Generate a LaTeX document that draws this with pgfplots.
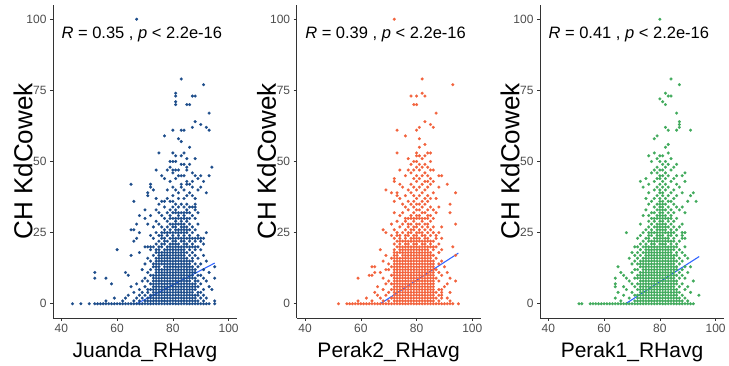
\documentclass[border=0pt]{standalone}
\usepackage{fontspec}
\setmainfont{Liberation Sans}
\usepackage{pgfplots}
\pgfplotsset{compat=1.18}

\definecolor{cjuanda}{RGB}{28,76,138}
\definecolor{cperaktwo}{RGB}{242,98,60}
\definecolor{cperakone}{RGB}{65,170,92}
\definecolor{fitline}{RGB}{51,102,255}
\definecolor{tickgray}{RGB}{77,77,77}

\pgfplotsset{
  panel/.style={
    scale only axis, width=184pt, height=313pt,
    xmin=37, xmax=103, ymin=-5, ymax=105,
    xtick={40,60,80,100}, ytick={0,25,50,75,100},
    axis x line*=bottom, axis y line*=left,
    axis line style={-, black!80, line width=0.6pt},
    every tick/.style={black!80, line width=0.6pt},
    tick align=outside, major tick length=3pt,
    ticklabel style={font=\fontsize{12}{12}\selectfont, text=tickgray},
    /pgf/number format/assume math mode=true,
    ylabel={CH KdCowek},
    ylabel style={font=\fontsize{26}{26}\selectfont, at={(axis description cs:-0.092,0.5)}, anchor=south},
    xlabel style={font=\fontsize{21}{21}\selectfont, at={(axis description cs:0.5,-0.1278)}, anchor=base},
    clip=false,
  },
  pts/.style={only marks, mark=*, mark size=1.45pt, mark options={line width=0.2pt}},
  fitln/.style={fitline, line width=1.1pt, no marks},
}
\tikzset{stat/.style={anchor=base west, inner sep=0pt, font=\fontsize{16.5}{16.5}\selectfont}}

\begin{document}
\begin{tikzpicture}
\path[use as bounding box] (0,0) rectangle (729pt,366pt);

% ---------------- Juanda ----------------
\begin{axis}[panel, at={(53pt,48pt)}, anchor=south west, xlabel={Juanda\_RHavg}]
\addplot[pts, color=cjuanda] coordinates {
(44,0)(47,0)(50,0)(52,0)(53,0)(54,0)(55,0)(56,0)(57,0)(58,0)(59,0)(60,0)(61,0)(62,0)(63,0)(64,0)(65,0)(66,0)(67,0)(68,0)(69,0)(70,0)(71,0)(72,0)(73,0)(74,0)(75,0)(76,0)(77,0)(78,0)(79,0)(80,0)(81,0)(82,0)(83,0)(84,0)(85,0)(86,0)(87,0)(88,0)(89,0)(90,0)(91,0)(92,0)(93,0)(95,0)
(56,1)(62,1)(66,1)(68,1)(70,1)(71,1)(72,1)(73,1)(74,1)(75,1)(76,1)(77,1)(78,1)(79,1)(80,1)(81,1)(82,1)(83,1)(84,1)(85,1)(86,1)(87,1)(88,1)(89,1)(91,1)(95,1)
(59,2)(63,2)(67,2)(69,2)(71,2)(72,2)(73,2)(74,2)(75,2)(76,2)(77,2)(78,2)(79,2)(80,2)(81,2)(82,2)(83,2)(84,2)(85,2)(86,2)(87,2)(88,2)(90,2)(92,2)
(64,3)(68,3)(70,3)(72,3)(73,3)(74,3)(75,3)(76,3)(77,3)(78,3)(79,3)(80,3)(81,3)(82,3)(83,3)(84,3)(85,3)(86,3)(87,3)(88,3)(89,3)(91,3)
(66,4)(69,4)(71,4)(73,4)(74,4)(75,4)(76,4)(77,4)(78,4)(79,4)(80,4)(81,4)(82,4)(83,4)(84,4)(85,4)(86,4)(87,4)(89,4)(90,4)
(68,5)(71,5)(72,5)(73,5)(74,5)(75,5)(76,5)(77,5)(78,5)(79,5)(80,5)(81,5)(82,5)(83,5)(84,5)(85,5)(86,5)(87,5)(88,5)(91,5)(94,5)
(65,6)(70,6)(73,6)(74,6)(75,6)(76,6)(77,6)(78,6)(79,6)(80,6)(81,6)(82,6)(83,6)(84,6)(85,6)(86,6)(87,6)(88,6)(89,6)(93,6)
(58,7)(67,7)(72,7)(73,7)(74,7)(75,7)(76,7)(77,7)(78,7)(79,7)(80,7)(81,7)(82,7)(83,7)(84,7)(85,7)(86,7)(87,7)(88,7)(90,7)
(69,8)(71,8)(73,8)(74,8)(75,8)(76,8)(77,8)(78,8)(79,8)(80,8)(81,8)(82,8)(83,8)(84,8)(85,8)(86,8)(88,8)(89,8)(92,8)
(52,9)(56,9)(70,9)(73,9)(74,9)(75,9)(76,9)(77,9)(78,9)(79,9)(80,9)(81,9)(82,9)(83,9)(84,9)(85,9)(86,9)(87,9)(88,9)(91,9)(95,9)
(64,10)(72,10)(73,10)(74,10)(75,10)(76,10)(77,10)(78,10)(79,10)(80,10)(81,10)(82,10)(83,10)(84,10)(85,10)(86,10)(87,10)(89,10)(90,10)
(52,11)(63,11)(71,11)(74,11)(75,11)(76,11)(77,11)(78,11)(79,11)(80,11)(81,11)(82,11)(83,11)(84,11)(85,11)(86,11)(87,11)(88,11)(93,11)
(69,12)(72,12)(74,12)(75,12)(76,12)(77,12)(78,12)(79,12)(80,12)(81,12)(82,12)(83,12)(84,12)(85,12)(86,12)(87,12)(88,12)(91,12)
(73,13)(74,13)(75,13)(77,13)(78,13)(79,13)(80,13)(81,13)(82,13)(83,13)(84,13)(85,13)(86,13)(87,13)(89,13)(95,13)
(70,14)(73,14)(74,14)(75,14)(76,14)(77,14)(78,14)(79,14)(80,14)(81,14)(82,14)(83,14)(84,14)(85,14)(86,14)(88,14)(90,14)
(72,15)(74,15)(75,15)(76,15)(77,15)(78,15)(79,15)(80,15)(81,15)(82,15)(83,15)(84,15)(85,15)(86,15)(87,15)(92,15)
(71,16)(74,16)(75,16)(76,16)(77,16)(78,16)(79,16)(80,16)(81,16)(82,16)(83,16)(84,16)(85,16)(87,16)(89,16)
(65,17)(73,17)(75,17)(76,17)(77,17)(78,17)(79,17)(80,17)(81,17)(82,17)(83,17)(84,17)(86,17)(88,17)(91,17)
(68,18)(74,18)(75,18)(76,18)(77,18)(78,18)(79,18)(80,18)(81,18)(82,18)(83,18)(84,18)(85,18)(87,18)
(60,19)(72,19)(74,19)(75,19)(77,19)(78,19)(79,19)(80,19)(81,19)(82,19)(83,19)(84,19)(86,19)(88,19)(90,19)
(70,20)(71,20)(72,20)(73,20)(75,20)(76,20)(78,20)(79,20)(80,20)(81,20)(82,20)(83,20)(84,20)(85,20)(86,20)(87,20)(88,20)(89,20)
(74,21)(76,21)(77,21)(79,21)(80,21)(81,21)(82,21)(84,21)(85,21)(87,21)(91,21)
(66,22)(75,22)(77,22)(78,22)(80,22)(81,22)(83,22)(84,22)(86,22)(88,22)(90,22)
(67,23)(73,23)(76,23)(77,23)(79,23)(80,23)(81,23)(82,23)(83,23)(84,23)(85,23)(86,23)(87,23)(88,23)(89,23)(90,23)(91,23)
(72,24)(75,24)(76,24)(78,24)(80,24)(82,24)(84,24)(86,24)(89,24)
(68,25)(74,25)(76,25)(77,25)(78,25)(79,25)(80,25)(81,25)(82,25)(83,25)(84,25)(85,25)(87,25)(92,25)
(65,26)(66,26)(77,26)(79,26)(81,26)(82,26)(83,26)(84,26)(85,26)(86,26)(88,26)
(73,27)(76,27)(78,27)(80,27)(81,27)(83,27)(84,27)(85,27)(87,27)
(67,28)(71,28)(75,28)(79,28)(80,28)(81,28)(82,28)(83,28)(84,28)(86,28)(89,28)
(74,29)(78,29)(81,29)(83,29)(85,29)
(70,30)(77,30)(79,30)(80,30)(81,30)(82,30)(83,30)(84,30)(85,30)(86,30)(88,30)
(68,31)(72,31)(76,31)(79,31)(82,31)(84,31)(87,31)
(75,32)(78,32)(80,32)(81,32)(82,32)(83,32)(84,32)(85,32)(86,32)(89,32)
(70,33)(74,33)(79,33)(81,33)(85,33)(88,33)
(77,34)(80,34)(82,34)(84,34)(86,34)(87,34)(88,34)
(75,35)(81,35)(83,35)(85,35)(88,35)
(66,36)(76,36)(77,36)(79,36)(80,36)
(74,37)(78,37)(82,37)(84,37)(88,37)
(71,38)(80,38)(85,38)(87,38)
(71,39)(82,39)(86,39)(92,39)
(73,40)(78,40)(81,40)(84,40)(89,40)
(72,41)(80,41)(83,41)(87,41)(90,41)
(65,42)(72,42)(83,42)(85,42)(86,42)
(79,43)(85,43)(87,43)(91,43)
(77,44)(81,44)(89,44)
(76,45)(82,45)(83,45)(84,45)(88,45)(90,45)(93,45)
(80,46)(87,46)
(74,47)(78,47)(80,47)(81,47)(82,47)(85,47)
(79,48)(85,48)(94,48)
(83,49)(84,49)(86,49)
(79,50)(80,50)(81,50)
(85,51)(88,51)
(81,52)(83,52)
(75,53)(80,53)(84,53)
(86,55)(83,57)(82,58)(77,59)
(80,61)(83,61)(84,61)(93,61)
(87,62)(92,62)(90,63)(88,64)(93,67)
(81,70)(85,70)(86,70)(81,71)
(81,73)(87,73)(88,73)(81,74)
(91,77)(83,79)(67,100)
};
\addplot[fitln] coordinates {(67,0) (95,14.3)};
\node[stat] at (axis cs:40,93.2) {\textit{R} = 0.35 , \textit{p} < 2.2e-16};
\end{axis}

% ---------------- Perak2 ----------------
\begin{axis}[panel, at={(296.7pt,48pt)}, anchor=south west, xlabel={Perak2\_RHavg}]
\addplot[pts, color=cperaktwo] coordinates {
(52,0)(55,0)(56,0)(57,0)(58,0)(59,0)(60,0)(61,0)(62,0)(63,0)(64,0)(65,0)(66,0)(67,0)(68,0)(69,0)(70,0)(71,0)(72,0)(73,0)(74,0)(75,0)(76,0)(77,0)(78,0)(79,0)(80,0)(81,0)(82,0)(83,0)(84,0)(85,0)(86,0)(87,0)(88,0)(89,0)(90,0)(91,0)(92,0)(93,0)(95,0)
(59,1)(64,1)(68,1)(70,1)(72,1)(73,1)(74,1)(75,1)(76,1)(77,1)(78,1)(79,1)(80,1)(81,1)(82,1)(83,1)(84,1)(85,1)(86,1)(88,1)(92,1)
(62,2)(67,2)(71,2)(72,2)(73,2)(74,2)(75,2)(76,2)(77,2)(78,2)(79,2)(80,2)(81,2)(82,2)(83,2)(84,2)(85,2)(86,2)(87,2)(89,2)(91,2)
(66,3)(69,3)(72,3)(73,3)(74,3)(75,3)(76,3)(77,3)(78,3)(79,3)(80,3)(81,3)(82,3)(83,3)(84,3)(85,3)(86,3)(88,3)(89,3)
(65,4)(70,4)(72,4)(73,4)(74,4)(75,4)(76,4)(77,4)(78,4)(79,4)(80,4)(81,4)(82,4)(83,4)(84,4)(85,4)(86,4)(87,4)(89,4)(92,4)
(68,5)(71,5)(72,5)(73,5)(74,5)(75,5)(76,5)(77,5)(78,5)(79,5)(80,5)(81,5)(82,5)(83,5)(84,5)(85,5)(86,5)(88,5)(89,5)
(66,6)(72,6)(73,6)(74,6)(75,6)(76,6)(77,6)(78,6)(79,6)(80,6)(81,6)(82,6)(83,6)(84,6)(85,6)(86,6)(90,6)
(69,7)(71,7)(72,7)(73,7)(74,7)(75,7)(76,7)(77,7)(78,7)(79,7)(80,7)(81,7)(82,7)(83,7)(84,7)(85,7)(86,7)(91,7)
(70,8)(72,8)(73,8)(74,8)(75,8)(76,8)(77,8)(78,8)(79,8)(80,8)(81,8)(82,8)(83,8)(84,8)(85,8)(86,8)(88,8)(94,8)
(59,9)(68,9)(72,9)(73,9)(74,9)(75,9)(76,9)(77,9)(78,9)(79,9)(80,9)(81,9)(82,9)(83,9)(84,9)(85,9)(86,9)(87,9)(92,9)
(63,10)(64,10)(71,10)(72,10)(73,10)(74,10)(75,10)(76,10)(77,10)(78,10)(79,10)(80,10)(81,10)(82,10)(83,10)(84,10)(85,10)(86,10)(89,10)
(65,11)(67,11)(72,11)(73,11)(74,11)(75,11)(76,11)(77,11)(78,11)(79,11)(80,11)(81,11)(82,11)(83,11)(84,11)(85,11)(86,11)(88,11)(91,11)
(69,12)(70,12)(72,12)(73,12)(74,12)(75,12)(76,12)(77,12)(78,12)(79,12)(80,12)(81,12)(82,12)(83,12)(84,12)(85,12)(86,12)(87,12)
(64,13)(65,13)(71,13)(72,13)(73,13)(74,13)(75,13)(76,13)(77,13)(78,13)(79,13)(80,13)(81,13)(82,13)(83,13)(84,13)(85,13)(86,13)(90,13)
(70,14)(72,14)(73,14)(74,14)(75,14)(76,14)(77,14)(78,14)(79,14)(80,14)(81,14)(82,14)(83,14)(84,14)(85,14)(86,14)(88,14)
(68,15)(72,15)(73,15)(74,15)(75,15)(76,15)(77,15)(78,15)(79,15)(80,15)(81,15)(82,15)(83,15)(84,15)(85,15)(86,15)(89,15)
(71,16)(72,16)(73,16)(74,16)(75,16)(76,16)(77,16)(78,16)(79,16)(80,16)(81,16)(82,16)(83,16)(84,16)(85,16)(87,16)
(69,17)(72,17)(73,17)(75,17)(76,17)(77,17)(78,17)(79,17)(80,17)(81,17)(82,17)(83,17)(84,17)(85,17)(86,17)(94,17)
(72,18)(73,18)(74,18)(75,18)(76,18)(77,18)(78,18)(79,18)(80,18)(81,18)(82,18)(83,18)(84,18)(85,18)(88,18)
(67,19)(72,19)(74,19)(75,19)(76,19)(77,19)(78,19)(79,19)(80,19)(81,19)(82,19)(83,19)(84,19)(86,19)(89,19)
(73,20)(74,20)(75,20)(76,20)(77,20)(78,20)(79,20)(80,20)(81,20)(82,20)(83,20)(84,20)(85,20)(86,20)(87,20)(93,20)
(72,21)(74,21)(76,21)(77,21)(79,21)(80,21)(82,21)(83,21)(85,21)(88,21)
(73,22)(74,22)(75,22)(76,22)(77,22)(78,22)(79,22)(80,22)(81,22)(82,22)(83,22)(84,22)(85,22)(86,22)
(72,23)(74,23)(76,23)(78,23)(79,23)(80,23)(81,23)(83,23)(84,23)(87,23)(89,23)
(71,24)(73,24)(74,24)(76,24)(77,24)(79,24)(80,24)(82,24)(83,24)(85,24)(87,24)
(69,25)(73,25)(75,25)(77,25)(78,25)(80,25)(81,25)(82,25)(84,25)(86,25)(88,25)
(68,26)(72,26)(76,26)(78,26)(79,26)(81,26)(83,26)(85,26)
(74,27)(77,27)(79,27)(80,27)(82,27)(84,27)(86,27)(89,27)
(71,28)(75,28)(77,28)(78,28)(80,28)(81,28)(83,28)(84,28)(94,28)
(73,29)(76,29)(79,29)(82,29)(85,29)
(76,30)(77,30)(78,30)(79,30)(80,30)(81,30)(82,30)(83,30)(84,30)(86,30)
(74,31)(78,31)(80,31)(81,31)(84,31)(85,31)
(72,32)(75,32)(79,32)(82,32)(83,32)(87,32)(92,32)
(77,33)(80,33)(81,33)(84,33)(86,33)
(76,34)(79,34)(82,34)(85,34)(88,34)
(75,35)(78,35)(80,35)(81,35)(83,35)(92,35)
(72,36)(77,36)(79,36)(82,36)(84,36)
(74,37)(80,37)(83,37)(85,37)(87,37)
(73,38)(76,38)(79,38)(81,38)(84,38)
(71,39)(73,39)(78,39)(82,39)(86,39)(94,39)
(69,40)(77,40)(80,40)(83,40)
(75,41)(79,41)(81,41)(84,41)(88,41)
(74,42)(78,42)(82,42)(85,42)(91,42)
(72,43)(80,43)(83,43)(84,43)(86,43)
(72,44)(79,44)(81,44)(85,44)
(76,45)(80,45)(82,45)(84,45)(88,45)(89,45)
(78,46)(83,46)
(74,47)(77,47)(79,47)(81,47)(85,47)(86,47)
(80,48)(82,48)(84,48)
(78,49)(81,49)(83,49)
(79,50)(80,50)(85,50)
(77,51)(82,51)
(80,52)(81,52)(83,52)
(73,53)(80,53)(84,53)(85,53)
(81,55)(83,56)(81,58)(76,59)
(73,61)(80,61)(81,62)(86,62)(85,63)(83,64)(87,67)
(79,70)(80,70)(78,73)(80,73)(83,73)(82,74)
(93,77)(82,79)(72,100)
};
\addplot[fitln] coordinates {(67,0) (95,17.8)};
\node[stat] at (axis cs:40,93.2) {\textit{R} = 0.39 , \textit{p} < 2.2e-16};
\end{axis}

% ---------------- Perak1 ----------------
\begin{axis}[panel, at={(540pt,48pt)}, anchor=south west, xlabel={Perak1\_RHavg}]
\addplot[pts, color=cperakone] coordinates {
(51,0)(52,0)(55,0)(56,0)(57,0)(58,0)(59,0)(60,0)(61,0)(62,0)(63,0)(64,0)(65,0)(66,0)(67,0)(68,0)(69,0)(70,0)(71,0)(72,0)(73,0)(74,0)(75,0)(76,0)(77,0)(78,0)(79,0)(80,0)(81,0)(82,0)(83,0)(84,0)(85,0)(86,0)(87,0)(88,0)(89,0)(90,0)(91,0)(92,0)
(66,1)(71,1)(72,1)(73,1)(74,1)(75,1)(76,1)(77,1)(78,1)(79,1)(80,1)(81,1)(82,1)(83,1)(84,1)(85,1)(86,1)(87,1)(88,1)(90,1)
(64,2)(69,2)(72,2)(73,2)(74,2)(75,2)(76,2)(77,2)(78,2)(79,2)(80,2)(81,2)(82,2)(83,2)(84,2)(85,2)(86,2)(87,2)(89,2)
(67,3)(71,3)(72,3)(73,3)(74,3)(75,3)(76,3)(77,3)(78,3)(79,3)(80,3)(81,3)(82,3)(83,3)(84,3)(85,3)(86,3)(88,3)(94,3)
(65,4)(70,4)(73,4)(74,4)(75,4)(76,4)(77,4)(78,4)(79,4)(80,4)(81,4)(82,4)(83,4)(84,4)(85,4)(86,4)(87,4)(91,4)
(68,5)(72,5)(73,5)(74,5)(75,5)(76,5)(77,5)(78,5)(79,5)(80,5)(81,5)(82,5)(83,5)(84,5)(85,5)(86,5)(89,5)
(64,6)(67,6)(71,6)(73,6)(74,6)(75,6)(76,6)(77,6)(78,6)(79,6)(80,6)(81,6)(82,6)(83,6)(84,6)(85,6)(87,6)(90,6)
(64,7)(70,7)(72,7)(73,7)(74,7)(75,7)(76,7)(77,7)(78,7)(79,7)(80,7)(81,7)(82,7)(83,7)(84,7)(85,7)(86,7)(88,7)
(69,8)(73,8)(74,8)(75,8)(76,8)(77,8)(78,8)(79,8)(80,8)(81,8)(82,8)(83,8)(84,8)(85,8)(86,8)(92,8)
(64,9)(68,9)(71,9)(72,9)(73,9)(74,9)(75,9)(76,9)(77,9)(78,9)(79,9)(80,9)(81,9)(82,9)(83,9)(84,9)(85,9)(87,9)(89,9)
(67,10)(72,10)(73,10)(74,10)(75,10)(76,10)(77,10)(78,10)(79,10)(80,10)(81,10)(82,10)(83,10)(84,10)(85,10)(86,10)(88,10)
(66,11)(70,11)(73,11)(74,11)(75,11)(76,11)(77,11)(78,11)(79,11)(80,11)(81,11)(82,11)(83,11)(84,11)(85,11)(87,11)(90,11)
(71,12)(72,12)(74,12)(75,12)(76,12)(77,12)(78,12)(79,12)(80,12)(81,12)(82,12)(83,12)(84,12)(85,12)(86,12)(88,12)
(65,13)(73,13)(74,13)(75,13)(76,13)(77,13)(78,13)(79,13)(80,13)(81,13)(82,13)(83,13)(84,13)(85,13)(86,13)(89,13)(91,13)
(70,14)(72,14)(73,14)(74,14)(75,14)(76,14)(77,14)(78,14)(79,14)(80,14)(81,14)(82,14)(83,14)(84,14)(85,14)(87,14)
(71,15)(73,15)(74,15)(75,15)(76,15)(77,15)(78,15)(79,15)(80,15)(81,15)(82,15)(83,15)(84,15)(85,15)(86,15)(88,15)
(69,16)(72,16)(74,16)(75,16)(76,16)(77,16)(78,16)(79,16)(80,16)(81,16)(82,16)(83,16)(84,16)(85,16)(87,16)(90,16)
(71,17)(73,17)(75,17)(76,17)(77,17)(78,17)(79,17)(80,17)(81,17)(82,17)(83,17)(84,17)(85,17)(86,17)(89,17)
(70,18)(72,18)(74,18)(75,18)(76,18)(77,18)(78,18)(79,18)(80,18)(81,18)(82,18)(83,18)(84,18)(86,18)(88,18)
(73,19)(75,19)(76,19)(77,19)(78,19)(79,19)(80,19)(81,19)(82,19)(83,19)(84,19)(85,19)(87,19)
(71,20)(72,20)(74,20)(75,20)(76,20)(77,20)(78,20)(79,20)(80,20)(81,20)(82,20)(83,20)(84,20)(85,20)(86,20)(89,20)
(73,21)(75,21)(77,21)(78,21)(80,21)(81,21)(82,21)(84,21)(86,21)
(74,22)(76,22)(77,22)(78,22)(79,22)(80,22)(81,22)(82,22)(83,22)(84,22)(85,22)(87,22)
(72,23)(75,23)(76,23)(78,23)(79,23)(80,23)(81,23)(82,23)(83,23)(85,23)(88,23)(89,23)
(73,24)(76,24)(77,24)(79,24)(80,24)(81,24)(83,24)(84,24)(86,24)(88,24)
(68,25)(74,25)(76,25)(77,25)(78,25)(79,25)(80,25)(81,25)(82,25)(83,25)(84,25)(85,25)(88,25)(89,25)
(75,26)(77,26)(79,26)(80,26)(81,26)(82,26)(84,26)(86,26)
(76,27)(78,27)(79,27)(80,27)(81,27)(82,27)(83,27)(85,27)(87,27)
(73,28)(77,28)(79,28)(80,28)(81,28)(82,28)(84,28)(88,28)
(76,29)(78,29)(80,29)(81,29)(83,29)(85,29)
(77,30)(78,30)(79,30)(80,30)(81,30)(82,30)(83,30)(84,30)(86,30)
(74,31)(76,31)(79,31)(80,31)(81,31)(82,31)(84,31)
(77,32)(78,32)(80,32)(81,32)(83,32)(85,32)(89,32)
(75,33)(79,33)(80,33)(81,33)(82,33)(84,33)(87,33)
(78,34)(80,34)(81,34)(83,34)(86,34)(88,34)
(76,35)(79,35)(80,35)(81,35)(82,35)(85,35)
(77,36)(80,36)(81,36)(83,36)(84,36)(90,36)(93,36)
(75,37)(78,37)(80,37)(82,37)(85,37)
(79,38)(81,38)(83,38)(86,38)(91,38)
(76,39)(80,39)(81,39)(84,39)(88,39)(92,39)
(78,40)(80,40)(82,40)(85,40)
(74,41)(79,41)(81,41)(83,41)(87,41)
(76,42)(80,42)(82,42)(86,42)
(73,43)(78,43)(81,43)(84,43)(89,43)
(75,44)(79,44)(80,44)(82,44)(85,44)
(80,45)(81,45)(83,45)(86,45)(88,45)
(77,46)(79,46)(82,46)(89,46)
(78,47)(80,47)(81,47)(84,47)
(79,48)(82,48)(85,48)
(81,49)(83,49)(86,49)
(77,50)(80,50)(82,50)
(79,51)(84,51)
(76,52)(80,52)(81,52)
(78,53)(83,53)
(82,55)(83,56)(78,58)(79,59)
(83,61)(86,61)(91,61)(82,62)(87,62)(87,63)(87,64)(86,67)
(82,70)(81,71)(80,72)(83,73)(84,73)(82,74)
(87,77)(84,79)(80,100)
};
\addplot[fitln] coordinates {(67.7,0) (94.1,16.6)};
\node[stat] at (axis cs:40,93.2) {\textit{R} = 0.41 , \textit{p} < 2.2e-16};
\end{axis}
\end{tikzpicture}
\end{document}
